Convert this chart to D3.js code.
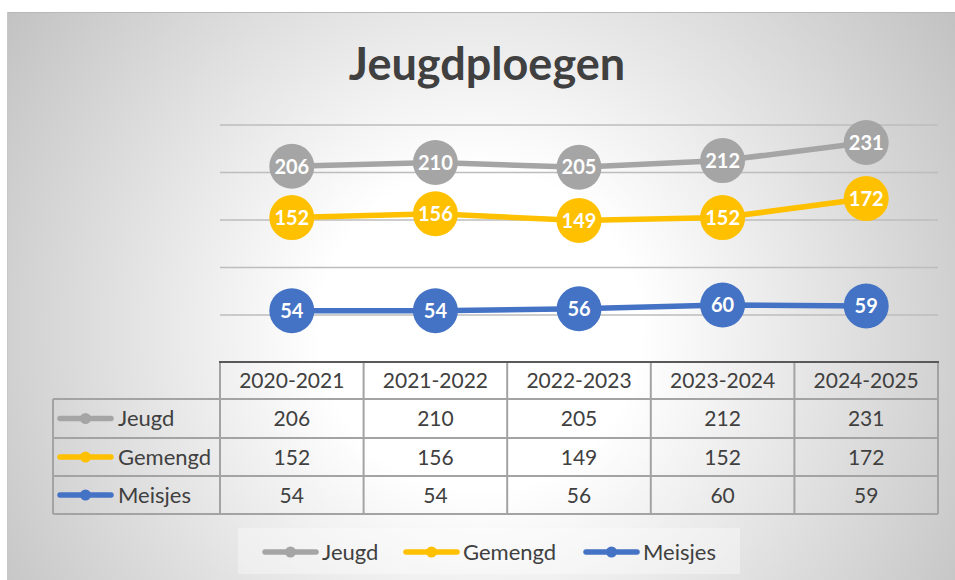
<!DOCTYPE html>
<meta charset="utf-8">
<script src="https://d3js.org/d3.v7.min.js"></script>
<style>
  body { margin: 0; background: #fff; }
  text { font-family: Lato, "Noto Sans", sans-serif; }
</style>
<div id="chart"></div>
<script>
// Chart values
const seasons = ["2020-2021", "2021-2022", "2022-2023", "2023-2024", "2024-2025"];
const jeugd = [206, 210, 205, 212, 231];
const gemengd = [152, 156, 149, 152, 172];
const meisjes = [54, 54, 56, 60, 59];
const seriesNames = ["Jeugd", "Gemengd", "Meisjes"];
const yTicks = [50, 100, 150, 200, 250];

const colors = {Jeugd: "#a5a5a5", Gemengd: "#ffc000", Meisjes: "#4472c4"};
const series = [
  {name: "Jeugd", values: jeugd},
  {name: "Gemengd", values: gemengd},
  {name: "Meisjes", values: meisjes}
];

const W = 955, H = 580;
const plot = {left: 220, right: 938, top: 124.5, bottom: 362};

const svg = d3.select("#chart").append("svg")
    .attr("width", W).attr("height", H);

// Background with radial gradient
const defs = svg.append("defs");
const grad = defs.append("radialGradient")
    .attr("id", "bg")
    .attr("gradientUnits", "userSpaceOnUse")
    .attr("cx", 480).attr("cy", 330).attr("r", 570);
grad.append("stop").attr("offset", 0.28).attr("stop-color", "#ffffff");
grad.append("stop").attr("offset", 1).attr("stop-color", "#c2c2c2");

svg.append("rect")
    .attr("x", 7).attr("y", 12).attr("width", W).attr("height", H)
    .attr("fill", "url(#bg)");
svg.append("line")
    .attr("x1", 7).attr("x2", W).attr("y1", 12.5).attr("y2", 12.5)
    .attr("stroke", "#b8b8b8").attr("stroke-width", 1);
svg.append("line")
    .attr("x1", 7.5).attr("x2", 7.5).attr("y1", 12).attr("y2", H)
    .attr("stroke", "#c8c8c8").attr("stroke-width", 1);

// Title
svg.append("text")
    .attr("x", 487).attr("y", 80)
    .attr("text-anchor", "middle")
    .attr("font-size", 45).attr("font-weight", "bold")
    .attr("fill", "#404040")
    .text("Jeugdploegen");

// Scales
const x = d3.scaleBand().domain(seasons).range([plot.left, plot.right]);
const y = d3.scaleLinear().domain([0, 250]).range([plot.bottom, plot.top]);
const cx = d => x(d) + x.bandwidth() / 2;

// Gridlines
const grid = svg.append("g")
    .attr("transform", `translate(${plot.left},0)`)
    .call(d3.axisLeft(y).tickValues(yTicks).tickSize(-(plot.right - plot.left)).tickFormat(""));
grid.select(".domain").remove();
grid.selectAll(".tick line").attr("stroke", "#bdbdbd").attr("stroke-width", 1.3);

// Lines
const line = d3.line().x((d, i) => cx(seasons[i])).y(d => y(d));
series.forEach(s => {
  svg.append("path")
      .datum(s.values)
      .attr("d", line)
      .attr("fill", "none")
      .attr("stroke", colors[s.name])
      .attr("stroke-width", 5.5)
      .attr("stroke-linejoin", "round");
});

// Markers with labels
series.forEach(s => {
  const g = svg.append("g");
  g.selectAll("circle").data(s.values).join("circle")
      .attr("cx", (d, i) => cx(seasons[i]))
      .attr("cy", d => y(d))
      .attr("r", 22.5)
      .attr("fill", colors[s.name]);
  g.selectAll("text").data(s.values).join("text")
      .attr("x", (d, i) => cx(seasons[i]))
      .attr("y", d => y(d))
      .attr("dy", "0.36em")
      .attr("text-anchor", "middle")
      .attr("font-size", 20).attr("font-weight", "bold")
      .attr("fill", "#ffffff")
      .text(d => d);
});

// Data table
const tableLeft = 53;
const rowEdges = [362, 399, 438, 476, 514];
const table = svg.append("g");
const borderColor = "#a3a3a3";

// horizontal borders
rowEdges.slice(1).forEach(yy => {
  table.append("line")
      .attr("x1", tableLeft).attr("x2", plot.right)
      .attr("y1", yy).attr("y2", yy)
      .attr("stroke", borderColor).attr("stroke-width", 2);
});
// vertical borders
const colEdges = seasons.map(d => x(d)).concat([plot.right]);
colEdges.forEach(xx => {
  table.append("line")
      .attr("x1", xx).attr("x2", xx)
      .attr("y1", rowEdges[0]).attr("y2", rowEdges[4])
      .attr("stroke", borderColor).attr("stroke-width", 2);
});
table.append("line")
    .attr("x1", tableLeft).attr("x2", tableLeft)
    .attr("y1", rowEdges[1]).attr("y2", rowEdges[4])
    .attr("stroke", borderColor).attr("stroke-width", 2);
// axis line on top of table
table.append("line")
    .attr("x1", plot.left - 1).attr("x2", plot.right + 1)
    .attr("y1", rowEdges[0]).attr("y2", rowEdges[0])
    .attr("stroke", "#595959").attr("stroke-width", 2);

// header
table.selectAll("text.head").data(seasons).join("text")
    .attr("class", "head")
    .attr("x", d => cx(d))
    .attr("y", (rowEdges[0] + rowEdges[1]) / 2)
    .attr("dy", "0.36em")
    .attr("text-anchor", "middle")
    .attr("font-size", 21)
    .attr("fill", "#404040")
    .text(d => d);

// legend icon helper
function legendIcon(g, x0, yy, color) {
  g.append("line")
      .attr("x1", x0 + 3).attr("x2", x0 + 54)
      .attr("y1", yy).attr("y2", yy)
      .attr("stroke", color).attr("stroke-width", 5.5)
      .attr("stroke-linecap", "round");
  g.append("circle")
      .attr("cx", x0 + 28.5).attr("cy", yy).attr("r", 5.5)
      .attr("fill", color);
}

series.forEach((s, r) => {
  const yy = (rowEdges[r + 1] + rowEdges[r + 2]) / 2;
  legendIcon(table, 57, yy, colors[s.name]);
  table.append("text")
      .attr("x", 118).attr("y", yy).attr("dy", "0.36em")
      .attr("font-size", 22).attr("fill", "#404040")
      .text(s.name);
  table.selectAll(null).data(s.values).join("text")
      .attr("x", (d, i) => cx(seasons[i]))
      .attr("y", yy).attr("dy", "0.36em")
      .attr("text-anchor", "middle")
      .attr("font-size", 21).attr("fill", "#404040")
      .text(d => d);
});

// Bottom legend
const legend = svg.append("g");
legend.append("rect")
    .attr("x", 238).attr("y", 528).attr("width", 502).attr("height", 46)
    .attr("fill", "#ffffff").attr("fill-opacity", 0.35);
const legendX = [262, 403, 583];
seriesNames.forEach((name, i) => {
  legendIcon(legend, legendX[i], 552, colors[name]);
  legend.append("text")
      .attr("x", legendX[i] + 60).attr("y", 552).attr("dy", "0.36em")
      .attr("font-size", 22).attr("fill", "#404040")
      .text(name);
});
</script>
